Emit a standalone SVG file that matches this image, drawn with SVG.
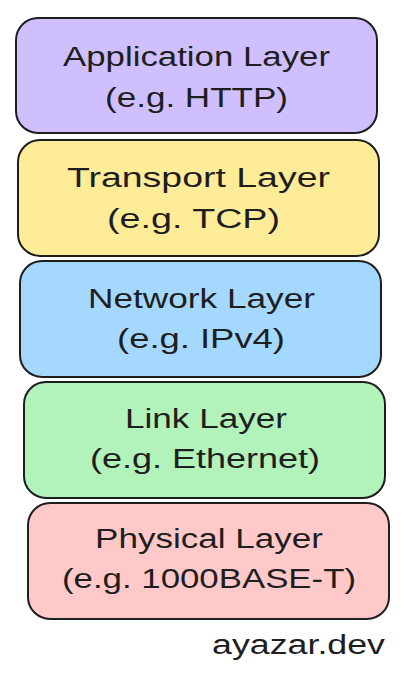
<svg xmlns="http://www.w3.org/2000/svg" width="404" height="686" viewBox="0 0 404 686">
<style>
.box{stroke:#1e1e1e;stroke-width:2;stroke-linejoin:round}
.t{font-family:"Liberation Sans","DejaVu Sans",sans-serif;font-size:27px;fill:#1e1e1e;text-anchor:start}
</style>
<rect x="0" y="0" width="404" height="686" fill="#ffffff"/>
<g id="application">
<rect class="box" x="16" y="18" width="361" height="115" rx="22" fill="#d0bfff"/>
<text class="t" x="63" y="66" textLength="267" lengthAdjust="spacingAndGlyphs">Application Layer</text>
<text class="t" x="105" y="107" textLength="183" lengthAdjust="spacingAndGlyphs">(e.g. HTTP)</text>
</g>
<g id="transport">
<rect class="box" x="18" y="140" width="361" height="116" rx="22" fill="#ffec99"/>
<text class="t" x="67" y="187" textLength="263" lengthAdjust="spacingAndGlyphs">Transport Layer</text>
<text class="t" x="107" y="228" textLength="173" lengthAdjust="spacingAndGlyphs">(e.g. TCP)</text>
</g>
<g id="network">
<rect class="box" x="20" y="261" width="361" height="116" rx="22" fill="#a5d8ff"/>
<text class="t" x="88" y="308" textLength="227" lengthAdjust="spacingAndGlyphs">Network Layer</text>
<text class="t" x="117" y="348" textLength="168" lengthAdjust="spacingAndGlyphs">(e.g. IPv4)</text>
</g>
<g id="link">
<rect class="box" x="24" y="382" width="361" height="116" rx="22" fill="#b2f2bb"/>
<text class="t" x="125" y="428" textLength="162" lengthAdjust="spacingAndGlyphs">Link Layer</text>
<text class="t" x="90" y="468" textLength="230" lengthAdjust="spacingAndGlyphs">(e.g. Ethernet)</text>
</g>
<g id="physical">
<rect class="box" x="28" y="503" width="361" height="116" rx="22" fill="#ffc9c9"/>
<text class="t" x="95" y="548" textLength="228" lengthAdjust="spacingAndGlyphs">Physical Layer</text>
<text class="t" x="62" y="588" textLength="294" lengthAdjust="spacingAndGlyphs">(e.g. 1000BASE-T)</text>
</g>
<g id="connectors"></g>
<text class="t" x="212" y="654" textLength="173" lengthAdjust="spacingAndGlyphs">ayazar.dev</text>
</svg>
